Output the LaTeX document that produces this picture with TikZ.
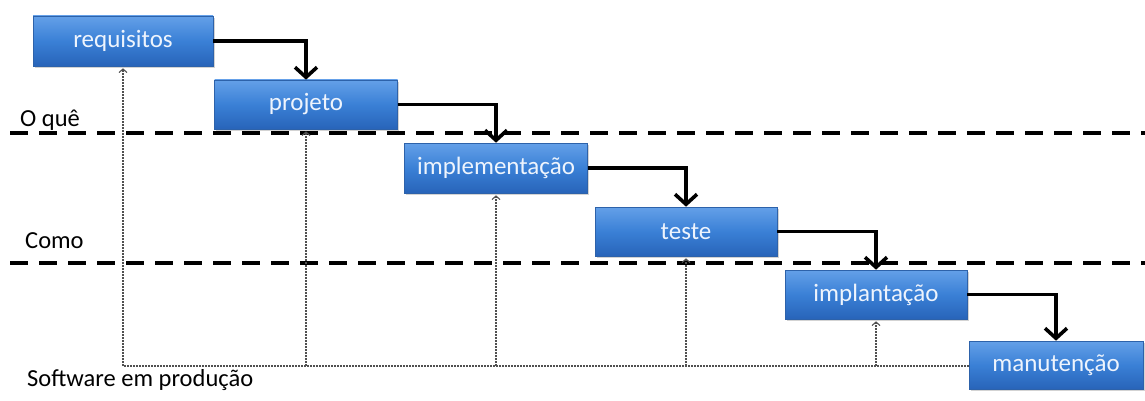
\documentclass[tikz,border=0pt]{standalone}
\usepackage{fontspec}
\setmainfont{Carlito}
\usetikzlibrary{arrows.meta,shadows,calc}
\definecolor{boxtop}{RGB}{100,160,232}
\definecolor{boxmid}{RGB}{58,128,214}
\definecolor{boxbot}{RGB}{40,100,185}
\definecolor{boxline}{RGB}{45,98,170}
\definecolor{boxtext}{RGB}{238,244,253}
\definecolor{dotgray}{RGB}{80,80,80}
\tikzset{
  phase/.style={rectangle, draw=boxline, line width=0.6pt, top color=boxtop, bottom color=boxbot, middle color=boxmid,
    text=boxtext, font=\fontsize{25}{28}\selectfont, inner sep=0pt,
    drop shadow={shadow xshift=1.5pt, shadow yshift=-2pt, opacity=0.35}},
  flow/.style={line width=3.6pt, black, -{Straight Barb[length=10pt,width=22pt,line width=3.6pt]}},
  feedback/.style={dotgray, line width=1.3pt, dash pattern=on 1.6pt off 1.4pt},
  fbarrow/.style={feedback, -{Straight Barb[length=3.5pt,width=8pt,line width=1.1pt]}},
  divider/.style={line width=3.6pt, black, dash pattern=on 18pt off 11pt},
  lbl/.style={font=\fontsize{24.5}{28}\selectfont, text=black, anchor=west, inner sep=0pt}
}
\begin{document}
\begin{tikzpicture}[x=1pt,y=-1pt]
\useasboundingbox (0,0) rectangle (1145,401);
% dividers
\coordinate (d1a) at (10,133);
\coordinate (d1b) at (1145,133);
\coordinate (d2a) at (10,263);
\coordinate (d2b) at (1145,263);
\draw[divider] (d1a) -- (d1b);
\draw[divider] (d2a) -- (d2b);
% labels
\node[lbl] (oque) at (20,120) {O quê};
\node[lbl] (como) at (25,241) {Como};
\node[lbl] (prod) at (27,380) {Software em produção};
% boxes
\node[phase, minimum width=180pt, minimum height=50pt] (req) at (123,41) {requisitos};
\node[phase, minimum width=183pt, minimum height=49pt] (proj) at (306,104.5) {projeto};
\node[phase, minimum width=183pt, minimum height=50pt] (impl) at (496,168) {implementação};
\node[phase, minimum width=182pt, minimum height=49pt] (test) at (686,231.5) {teste};
\node[phase, minimum width=182pt, minimum height=49pt] (impla) at (876,294.5) {implantação};
\node[phase, minimum width=174pt, minimum height=48pt] (man) at (1056,365) {manutenção};
% flow arrows
\draw[flow] (req.east) -| (proj.north);
\draw[flow] (proj.east) -| (impl.north);
\draw[flow] (impl.east) -| (test.north);
\draw[flow] (test.east) -| (impla.north);
\draw[flow] (impla.east) -| (man.north);
% feedback
\coordinate (base) at (123,366);
\draw[feedback] (man.west |- base) -- (base);
\draw[fbarrow] (base) -- ($(req.south)+(0,2)$);
\draw[fbarrow] (proj.south |- base) -- ($(proj.south)+(0,2)$);
\draw[fbarrow] (impl.south |- base) -- ($(impl.south)+(0,2)$);
\draw[fbarrow] (test.south |- base) -- ($(test.south)+(0,2)$);
\draw[fbarrow] (impla.south |- base) -- ($(impla.south)+(0,2)$);
\end{tikzpicture}
\end{document}
